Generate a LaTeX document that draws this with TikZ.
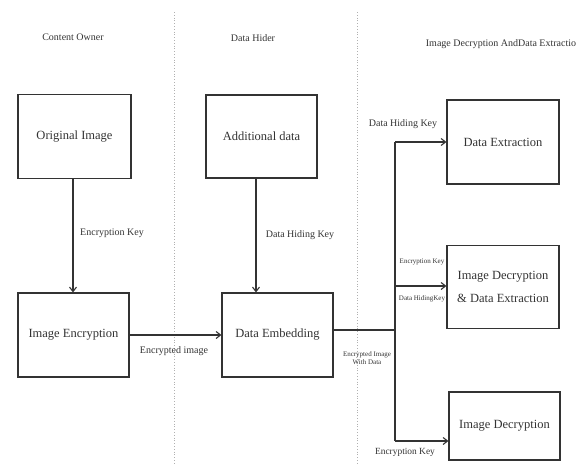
\documentclass[tikz,border=0pt]{standalone}
\usepackage{fontspec}
\setmainfont{Liberation Serif}
\usetikzlibrary{arrows.meta,calc}
\definecolor{ink}{HTML}{333333}
\definecolor{sep}{HTML}{B0B0B0}
\tikzset{
  box/.style={draw=ink, line width=1.1pt, minimum width=#1, inner sep=2pt, align=center, text=ink,
    font=\fontsize{12.5}{15}\selectfont},
  box/.default=111pt,
  conn/.style={draw=ink, line width=1.1pt},
  arr/.style={conn, -{Straight Barb[length=4.5pt,width=7pt]}},
  lbl/.style={text=ink, inner sep=0pt, align=center, font=\fontsize{10}{12}\selectfont},
  slbl/.style={text=ink, inner sep=0pt, align=center, font=\fontsize{7}{8.5}\selectfont},
  ttl/.style={text=ink, inner sep=0pt, font=\fontsize{10}{12}\selectfont},
  sepline/.style={draw=sep, line width=0.8pt, dotted}
}
\begin{document}
\begin{tikzpicture}[x=1pt,y=-1pt]
\useasboundingbox (0,0) rectangle (584,474);
% separators
\coordinate (s1t) at (174,12); \coordinate (s1b) at (174,465);
\coordinate (s2t) at (357,12); \coordinate (s2b) at (357,465);
\draw[sepline] (s1t) -- (s1b);
\draw[sepline] (s2t) -- (s2b);
% titles
\node[ttl] (t1) at (73,37) {Content Owner};
\node[ttl] (t2) at (253,38) {Data Hider};
\node[ttl] (t3) at (501,44) {Image Decryption AndData Extractio};
% boxes
\node[box=113pt, minimum height=84pt] (orig) at (74.5,136.5) {Original Image};
\node[box, minimum height=84pt] (enc) at (73.5,335) {Image Encryption};
\node[box, minimum height=83pt] (add) at (261.5,136.5) {Additional data};
\node[box, minimum height=84pt] (emb) at (277.5,335) {Data Embedding};
\node[box=112pt, minimum height=84pt] (ext) at (503,142) {Data Extraction};
\node[box=112pt, minimum height=83pt, font=\fontsize{12.5}{23}\selectfont] (dex) at (503,287) {Image Decryption\\\& Data Extraction};
\node[box, minimum height=68pt] (dec) at (504.5,426) {Image Decryption};
% vertical arrows
\coordinate (ax1) at (73,0);
\coordinate (ax2) at (256,0);
\draw[arr] (orig.south -| ax1) -- (enc.north -| ax1);
\draw[arr] (add.south -| ax2) -- (emb.north -| ax2);
\node[lbl] (l1) at (112,233) {Encryption Key};
\node[lbl] (l2) at (300,235) {Data Hiding Key};
% horizontal
\draw[arr] (enc.east) -- (emb.west);
\node[lbl] (l3) at (174,351) {Encrypted image};
% junction
\coordinate (j) at (395,330);
\coordinate (jt) at (395,142);
\coordinate (jm) at (395,286);
\coordinate (jb) at (395,441);
\draw[conn] (emb.east |- j) -- (j);
\draw[conn] (jt) -- (jb);
\draw[arr] (jt) -- (ext.west |- jt);
\draw[arr] (jm) -- (dex.west |- jm);
\draw[arr] (jb) -- (dec.west |- jb);
\node[slbl] (l4) at (367,358) {Encrypted Image\\With Data};
\node[lbl] (l5) at (403,124) {Data Hiding Key};
\node[slbl] (l6) at (422,262) {Encryption Key};
\node[slbl] (l7) at (422,299) {Data HidingKey};
\node[lbl, font=\fontsize{9.4}{11}\selectfont] (l8) at (405,452) {Encryption Key};
\end{tikzpicture}
\end{document}
